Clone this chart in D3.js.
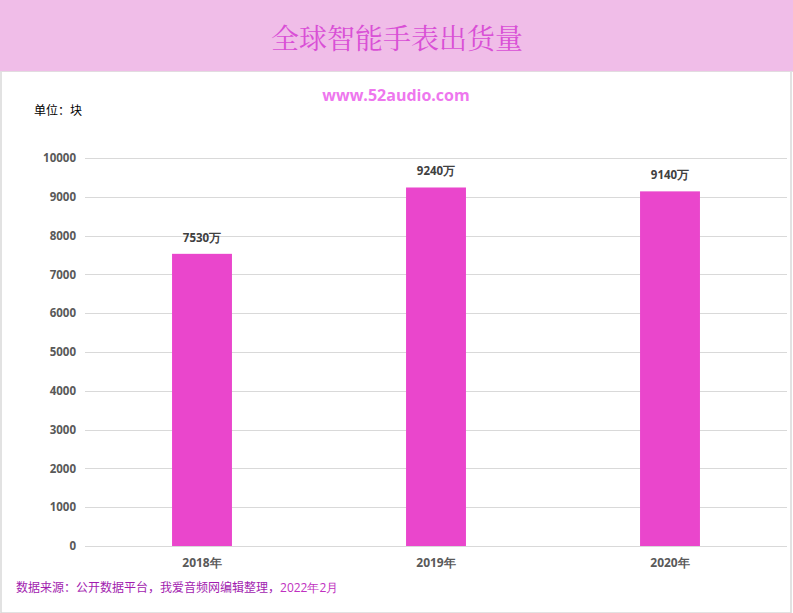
<!DOCTYPE html>
<html><head><meta charset="utf-8">
<script src="https://cdn.jsdelivr.net/npm/d3@7"></script>
<style>body{margin:0;background:#fff;}svg{display:block;}</style>
</head><body>
<svg id="c" width="793" height="613"></svg>
<script>
const categories = ["2018年","2019年","2020年"];
const values = [7530, 9240, 9140];
const valueLabels = ["7530万","9240万","9140万"];
const yTicks = [0,1000,2000,3000,4000,5000,6000,7000,8000,9000,10000];
const title = "全球智能手表出货量";
const watermark = "www.52audio.com";
const unitText = "单位：块";
const sourceMain = "数据来源：公开数据平台，我爱音频网编辑整理，";
const sourceDate = "2022年2月";

const svg = d3.select("#c");
const W = 793, H = 613;
const cjk = "'Noto Sans CJK SC','Microsoft YaHei',sans-serif";
const lat = "'Open Sans','DejaVu Sans',sans-serif";

// body background & borders
svg.append("rect").attr("x",1).attr("y",0).attr("width",790).attr("height",H)
  .attr("fill","#fff").attr("stroke","#d9d9d9").attr("stroke-width",1.5);
// header
svg.append("rect").attr("x",0).attr("y",0).attr("width",W).attr("height",71).attr("fill","#f0bde8");
svg.append("line").attr("x1",0).attr("x2",W).attr("y1",71.5).attr("y2",71.5).attr("stroke","#e2dce0");
svg.append("text").attr("x",397).attr("y",49).attr("text-anchor","middle")
  .attr("font-family","'Noto Serif CJK SC','Noto Sans CJK SC',serif").attr("font-size",28)
  .attr("fill","#d94fd6").text(title);

svg.append("text").attr("x",396).attr("y",101).attr("text-anchor","middle")
  .attr("font-family",lat).attr("font-weight","bold").attr("font-size",16)
  .attr("fill","#ee77ee").text(watermark);
svg.append("text").attr("x",34).attr("y",115).attr("font-family",cjk).attr("font-size",12)
  .attr("fill","#000").text(unitText);

const x = d3.scaleBand().domain(categories).range([85,787]).paddingInner(0.744).paddingOuter(0.372);
const y = d3.scaleLinear().domain([0,10000]).range([546,158]);

const g = svg.append("g");
// grid
g.selectAll("line.grid").data(yTicks).join("line").attr("class","grid")
  .attr("x1",85).attr("x2",787).attr("y1",d=>Math.round(y(d))+0.5).attr("y2",d=>Math.round(y(d))+0.5)
  .attr("stroke","#d9d9d9").attr("stroke-width",1);
// y axis labels
const yAxis = d3.axisLeft(y).tickValues(yTicks).tickFormat(d3.format("d")).tickSize(0).tickPadding(0);
const ya = svg.append("g").attr("transform","translate(76,0)").call(yAxis);
ya.select(".domain").remove();
ya.selectAll("text").attr("font-family",lat).attr("font-weight","bold").attr("font-size",11.5).attr("fill","#595959");

// bars
g.selectAll("rect.bar").data(values).join("rect").attr("class","bar")
  .attr("x",(d,i)=>x(categories[i])).attr("width",x.bandwidth())
  .attr("y",d=>y(d)).attr("height",d=>y(0)-y(d)).attr("fill","#ea46cc");
// value labels
g.selectAll("text.vl").data(values).join("text").attr("class","vl")
  .attr("x",(d,i)=>x(categories[i])+x.bandwidth()/2).attr("y",d=>y(d)-12)
  .attr("text-anchor","middle").attr("font-family",lat).attr("font-weight","bold")
  .attr("font-size",11.5).attr("fill","#404040").text((d,i)=>valueLabels[i]);

// x axis labels
const xAxis = d3.axisBottom(x).tickSize(0).tickPadding(0);
const xa = svg.append("g").attr("transform","translate(0,567)").call(xAxis);
xa.select(".domain").remove();
xa.selectAll("text").attr("dy",0).attr("font-family",lat).attr("font-weight","bold").attr("font-size",12).attr("fill","#595959");

// source
const st = svg.append("text").attr("x",16).attr("y",592).attr("font-family",cjk).attr("font-size",12).attr("fill","#a21caf");
st.append("tspan").text(sourceMain);
st.append("tspan").attr("font-family",lat).attr("fill","#c030c0").text(sourceDate);
</script>
</body></html>
